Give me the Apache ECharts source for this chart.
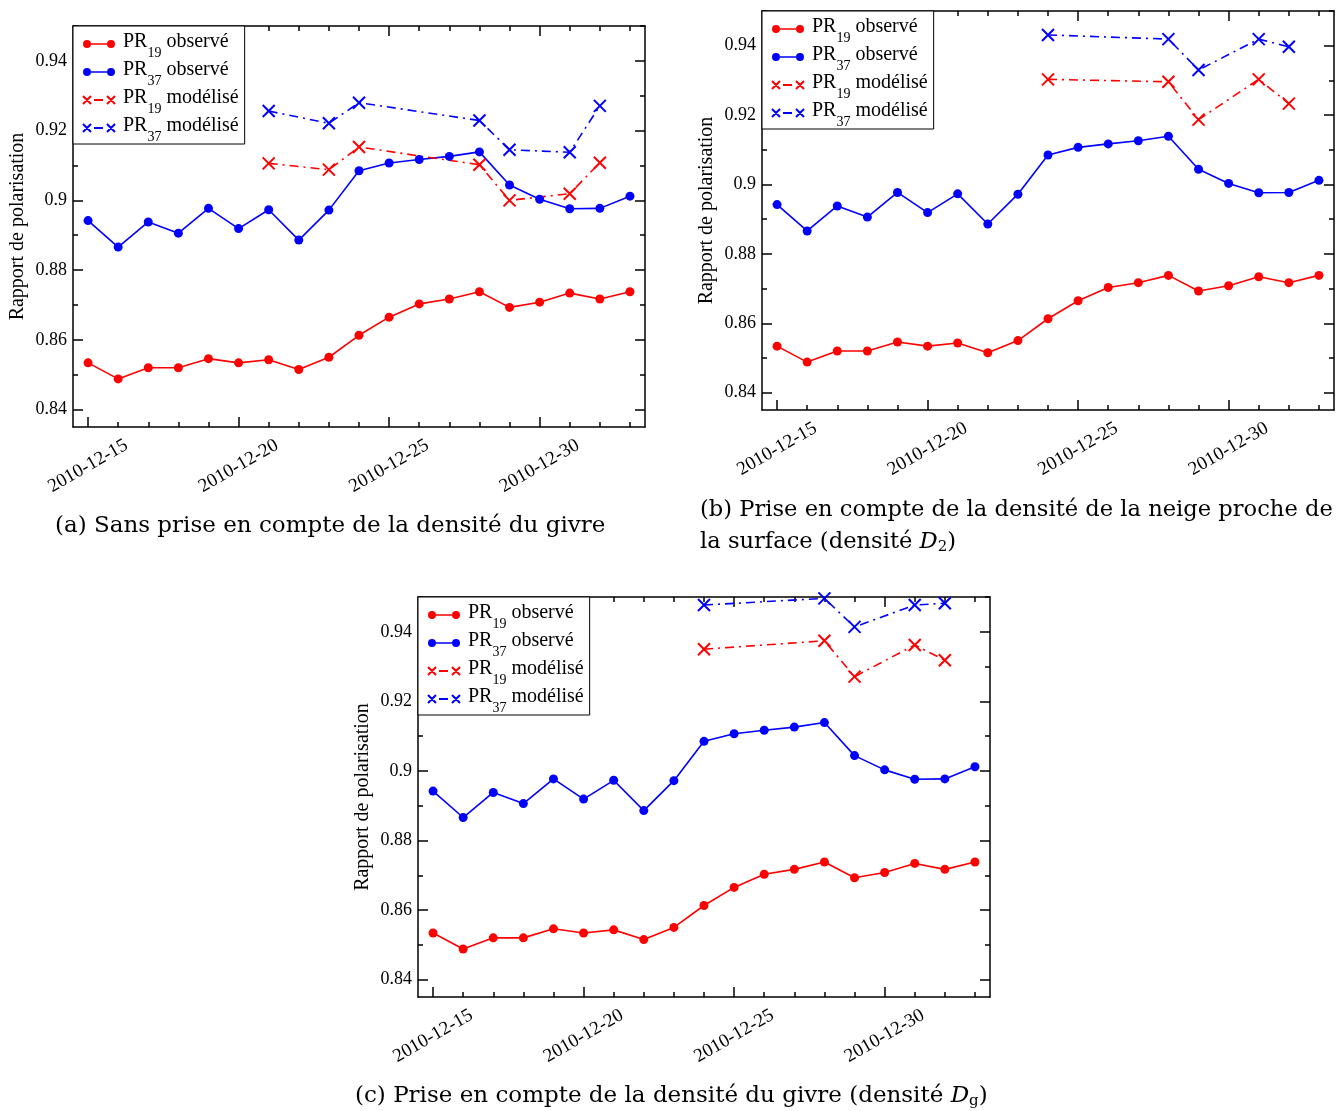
<!DOCTYPE html>
<html><head><meta charset="utf-8">
<script src="https://cdn.jsdelivr.net/npm/echarts@6/dist/echarts.min.js"></script>
<style>html,body{margin:0;padding:0;background:#fff}#c{width:1339px;height:1111px}</style>
</head><body><div id="c"></div>
<script>
// ---------------- data ----------------
const dates = ['2010-12-15','2010-12-16','2010-12-17','2010-12-18','2010-12-19','2010-12-20','2010-12-21',
  '2010-12-22','2010-12-23','2010-12-24','2010-12-25','2010-12-26','2010-12-27','2010-12-28','2010-12-29',
  '2010-12-30','2010-12-31','2011-01-01','2011-01-02'];
const xLabelDates = ['2010-12-15','2010-12-20','2010-12-25','2010-12-30'];
const yTickValues = [0.84, 0.86, 0.88, 0.90, 0.92, 0.94];
const yMinorValues = [0.85, 0.87, 0.89, 0.91, 0.93, 0.95];

const pr19Obs = [0.8534,0.8488,0.8520,0.8520,0.8546,0.8534,0.8543,0.8515,0.8550,0.8613,0.8665,0.8703,0.8717,0.8738,0.8693,0.8708,0.8734,0.8717,0.8738];
const pr37Obs = [0.8942,0.8866,0.8938,0.8906,0.8977,0.8919,0.8973,0.8886,0.8972,0.9085,0.9107,0.9117,0.9126,0.9139,0.9044,0.9003,0.8976,0.8977,0.9012];

// (a) sans densité du givre
const pr19ModA = [null,null,null,null,null,null,0.9106,null,0.9088,0.9153,null,null,null,0.9102,0.9000,null,0.9019,0.9108,null];
const pr37ModA = [null,null,null,null,null,null,0.9256,null,0.9221,0.9280,null,null,null,0.9229,0.9145,null,0.9138,0.9271,null];
// (b) densité D2
const pr19ModB = [null,null,null,null,null,null,null,null,null,0.9303,null,null,null,0.9296,0.9187,null,0.9303,0.9233,null];
const pr37ModB = [null,null,null,null,null,null,null,null,null,0.9431,null,null,null,0.9419,0.9330,null,0.9419,0.9397,null];
// (c) densité Dg
const pr19ModC = [null,null,null,null,null,null,null,null,null,0.9350,null,null,null,0.9374,0.9271,null,0.9362,0.9318,null];
const pr37ModC = [null,null,null,null,null,null,null,null,null,0.9477,null,null,null,0.9496,0.9414,null,0.9477,0.9482,null];

const seriesNames = ['PR19 observé','PR37 observé','PR19 modélisé','PR37 modélisé'];
const yAxisName = 'Rapport de polarisation';
const captions = [
  {lines: ['(a) Sans prise en compte de la densité du givre'], x: 55, y: 526, size: 23},
  {lines: ['(b) Prise en compte de la densité de la neige proche de', 'la surface (densité {i|D}{s|2})'], x: 700, y: 510, size: 22.6},
  {lines: ['(c) Prise en compte de la densité du givre (densité {i|D}{s|g})'], x: 355, y: 1096, size: 23}
];

// ---------------- layout / style ----------------
const RED = '#ff0000', BLUE = '#0000ff';
const FONT = '"Liberation Serif", "Times New Roman", serif';
const CAPFONT = '"DejaVu Serif", serif';
const panels = [
  {rect: {left: 73, top: 26, width: 572, height: 401}, m19: pr19ModA, m37: pr37ModA},
  {rect: {left: 762, top: 11, width: 572, height: 399}, m19: pr19ModB, m37: pr37ModB},
  {rect: {left: 418, top: 597, width: 572, height: 400}, m19: pr19ModC, m37: pr37ModC}
];
const Y_MIN = 0.835, Y_MAX = 0.95;
const X_MIN = -0.5, X_MAX = dates.length - 0.5;
const xMajor = xLabelDates.map(d => dates.indexOf(d));
const xMinor = dates.map((d, i) => i);
const XSYM = 'path://M0,0L10,10M0,10L10,0';
const ICON_OBS = 'path://M0,5a4,4 0 1,0 8,0a4,4 0 1,0 -8,0zM24,5a4,4 0 1,0 8,0a4,4 0 1,0 -8,0zM8,4.25h16v1.5h-16z';
const ICON_MOD = 'path://M0,1L8,9M0,9L8,1M11,5H20M24,1L32,9M24,9L32,1';
const DASHDOT = [9, 5, 2, 5];

function pairs(arr) { const out = []; arr.forEach((v, i) => { if (v != null) out.push([i, v]); }); return out; }

const grid = [], xAxis = [], yAxis = [], series = [], legend = [], graphic = [];
const lineBlack = {color: '#000', width: 1.5};

panels.forEach((p, k) => {
  grid.push(Object.assign({containLabel: false}, p.rect));
  grid.push(Object.assign({containLabel: false}, p.rect));
  const gMain = 2 * k, gMinor = 2 * k + 1;
  const xi = xAxis.length, yi = yAxis.length;
  xAxis.push({type: 'value', gridIndex: gMain, position: 'bottom', min: X_MIN, max: X_MAX,
    axisLine: {show: true, onZero: false, lineStyle: lineBlack},
    axisTick: {show: true, inside: true, length: 10, customValues: xMajor, lineStyle: lineBlack},
    axisLabel: {show: true, customValues: xMajor, formatter: v => dates[Math.round(v)], rotate: 30,
      align: 'center', verticalAlign: 'middle', margin: 39, fontFamily: FONT, fontSize: 19, color: '#000'},
    splitLine: {show: false}});
  xAxis.push({type: 'value', gridIndex: gMain, position: 'top', min: X_MIN, max: X_MAX,
    axisLine: {show: true, onZero: false, lineStyle: lineBlack},
    axisTick: {show: true, inside: true, length: 10, customValues: xMajor, lineStyle: lineBlack},
    axisLabel: {show: false}, splitLine: {show: false}});
  xAxis.push({type: 'value', gridIndex: gMinor, position: 'bottom', min: X_MIN, max: X_MAX,
    axisLine: {show: false, onZero: false},
    axisTick: {show: true, inside: true, length: 5, customValues: xMinor, lineStyle: lineBlack},
    axisLabel: {show: false}, splitLine: {show: false}});
  xAxis.push({type: 'value', gridIndex: gMinor, position: 'top', min: X_MIN, max: X_MAX,
    axisLine: {show: false, onZero: false},
    axisTick: {show: true, inside: true, length: 5, customValues: xMinor, lineStyle: lineBlack},
    axisLabel: {show: false}, splitLine: {show: false}});
  yAxis.push({type: 'value', gridIndex: gMain, position: 'left', min: Y_MIN, max: Y_MAX,
    name: yAxisName, nameLocation: 'middle', nameRotate: 90, nameGap: 45,
    nameTextStyle: {fontFamily: FONT, fontSize: 20, color: '#000'},
    axisLine: {show: true, onZero: false, lineStyle: lineBlack},
    axisTick: {show: true, inside: true, length: 10, customValues: yTickValues, lineStyle: lineBlack},
    axisLabel: {show: true, customValues: yTickValues, margin: 6, formatter: v => String(Math.round(v * 100) / 100),
      fontFamily: FONT, fontSize: 18, color: '#000'},
    splitLine: {show: false}});
  yAxis.push({type: 'value', gridIndex: gMain, position: 'right', min: Y_MIN, max: Y_MAX,
    axisLine: {show: true, onZero: false, lineStyle: lineBlack},
    axisTick: {show: true, inside: true, length: 10, customValues: yTickValues, lineStyle: lineBlack},
    axisLabel: {show: false}, splitLine: {show: false}});
  yAxis.push({type: 'value', gridIndex: gMinor, position: 'left', min: Y_MIN, max: Y_MAX,
    axisLine: {show: false, onZero: false},
    axisTick: {show: true, inside: true, length: 5, customValues: yMinorValues, lineStyle: lineBlack},
    axisLabel: {show: false}, splitLine: {show: false}});
  yAxis.push({type: 'value', gridIndex: gMinor, position: 'right', min: Y_MIN, max: Y_MAX,
    axisLine: {show: false, onZero: false},
    axisTick: {show: true, inside: true, length: 5, customValues: yMinorValues, lineStyle: lineBlack},
    axisLabel: {show: false}, splitLine: {show: false}});

  const common = {type: 'line', xAxisIndex: xi, yAxisIndex: yi, silent: true, animation: false, connectNulls: true};
  series.push(Object.assign({}, common, {name: seriesNames[0], data: pairs(pr19Obs), symbol: 'circle', symbolSize: 9,
    lineStyle: {color: RED, width: 1.6}, itemStyle: {color: RED}}));
  series.push(Object.assign({}, common, {name: seriesNames[1], data: pairs(pr37Obs), symbol: 'circle', symbolSize: 9,
    lineStyle: {color: BLUE, width: 1.6}, itemStyle: {color: BLUE}}));
  series.push(Object.assign({}, common, {name: seriesNames[2], data: pairs(p.m19), symbol: XSYM, symbolSize: 12,
    lineStyle: {color: RED, width: 1.6, type: DASHDOT}, itemStyle: {color: RED, borderColor: RED, borderWidth: 2}}));
  series.push(Object.assign({}, common, {name: seriesNames[3], data: pairs(p.m37), symbol: XSYM, symbolSize: 12,
    lineStyle: {color: BLUE, width: 1.6, type: DASHDOT}, itemStyle: {color: BLUE, borderColor: BLUE, borderWidth: 2}}));

  legend.push({
    left: p.rect.left, top: p.rect.top, orient: 'vertical', selectedMode: false,
    backgroundColor: '#fff', borderColor: '#000', borderWidth: 1, borderRadius: 0,
    padding: [1, 6, 0, 9], itemGap: -5, itemWidth: 32, itemHeight: 10,
    data: [
      {name: seriesNames[0], icon: ICON_OBS, itemStyle: {color: RED, borderWidth: 0}},
      {name: seriesNames[1], icon: ICON_OBS, itemStyle: {color: BLUE, borderWidth: 0}},
      {name: seriesNames[2], icon: ICON_MOD, itemStyle: {color: RED, borderColor: RED, borderWidth: 2}},
      {name: seriesNames[3], icon: ICON_MOD, itemStyle: {color: BLUE, borderColor: BLUE, borderWidth: 2}}
    ],
    formatter: name => {
      const m = name.match(/^PR(\d+) (.*)$/);
      return '{a|PR}{s|' + m[1] + '}{b| ' + m[2] + '}';
    },
    textStyle: {
      fontFamily: FONT, color: '#000', fontSize: 20,
      rich: {
        a: {fontFamily: FONT, fontSize: 20, color: '#000', lineHeight: 34, verticalAlign: 'top', padding: [5, 0, 0, 3]},
        b: {fontFamily: FONT, fontSize: 20, color: '#000', lineHeight: 34, verticalAlign: 'top', padding: [5, 0, 0, 0]},
        s: {fontFamily: FONT, fontSize: 14, color: '#000', lineHeight: 14, verticalAlign: 'top', padding: [19, 0, 0, 0]}
      }
    }
  });
});

captions.forEach(c => {
  c.lines.forEach((line, j) => {
    graphic.push({type: 'text', x: c.x, y: c.y + j * 32, silent: true,
      style: {text: line, fontFamily: CAPFONT, fontSize: c.size, fill: '#000', verticalAlign: 'middle', align: 'left',
        rich: {
          i: {fontFamily: CAPFONT, fontSize: c.size, fontStyle: 'italic'},
          s: {fontFamily: CAPFONT, fontSize: 15, padding: [10, 0, 0, 0]}
        }}});
  });
});

const chart = echarts.init(document.getElementById('c'), null, {renderer: 'canvas'});
chart.setOption({
  animation: false,
  backgroundColor: '#fff',
  grid, xAxis, yAxis, series, legend, graphic
});
</script>
</body></html>
